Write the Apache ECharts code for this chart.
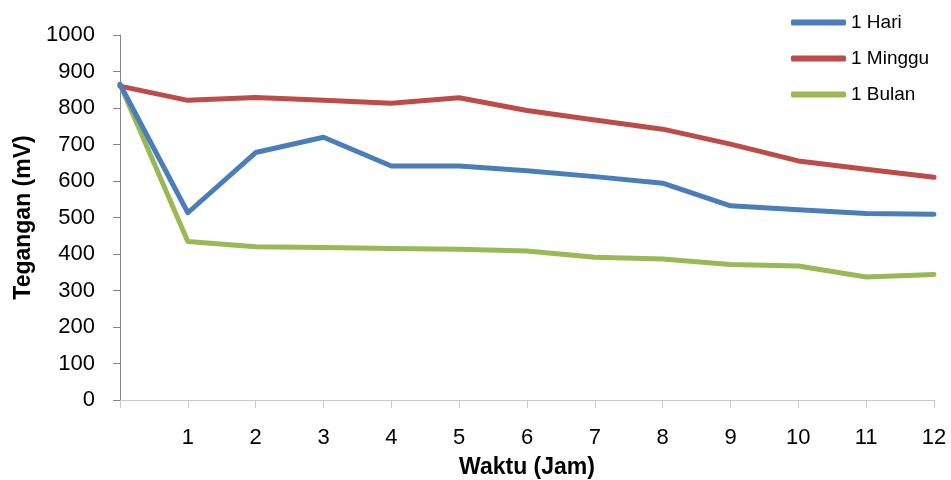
<!DOCTYPE html>
<html>
<head>
<meta charset="utf-8">
<script src="https://cdn.jsdelivr.net/npm/echarts@6/dist/echarts.min.js"></script>
<style>
  html, body { margin: 0; padding: 0; background: #fff; }
  #chart { width: 951px; height: 480px; }
</style>
</head>
<body>
<div id="chart"></div>
<script>
// Time in hours (x) and measured voltage in mV for each storage duration
const hours = [0, 1, 2, 3, 4, 5, 6, 7, 8, 9, 10, 11, 12];
const seriesNames = ['1 Hari', '1 Minggu', '1 Bulan'];
const hari   = [865, 513, 678, 720, 641, 641, 628, 612, 594, 532, 521, 511, 509];
const minggu = [860, 821, 829, 821, 813, 828, 793, 767, 742, 701, 655, 632, 610];
const bulan  = [865, 434, 420, 418, 415, 413, 408, 391, 386, 371, 367, 337, 344];
const colors = ['#4A7EBB', '#BE4B48', '#98B954'];

const fontFamily = '"Liberation Sans", Arial, sans-serif';
const yAxisGray = '#868686';
const xAxisGray = '#C8C8C8';

function pairs(values) {
  return hours.map((h, i) => [h, values[i]]);
}

const chart = echarts.init(document.getElementById('chart'), null, { renderer: 'canvas' });

chart.setOption({
  animation: false,
  backgroundColor: '#fff',
  color: colors,
  textStyle: { fontFamily: fontFamily, color: '#000' },
  grid: {
    left: 120, right: 17, top: 35, bottom: 80,
    containLabel: false,
    outerBoundsMode: 'none'
  },
  legend: {
    orient: 'vertical',
    left: 786,
    top: 8,
    itemWidth: 55,
    itemHeight: 6,
    itemGap: 17,
    icon: 'roundRect',
    textStyle: { fontSize: 19, color: '#000', fontFamily: fontFamily },
    data: seriesNames
  },
  xAxis: {
    type: 'value',
    min: 0,
    max: 12,
    interval: 1,
    name: 'Waktu (Jam)',
    nameLocation: 'middle',
    nameGap: 56,
    nameTextStyle: { fontSize: 23, fontWeight: 'bold', color: '#000', fontFamily: fontFamily },
    axisLine: { show: true, lineStyle: { color: xAxisGray, width: 1 } },
    axisTick: { show: true, length: 8, lineStyle: { color: xAxisGray } },
    axisLabel: {
      fontSize: 22,
      color: '#000',
      margin: 27,
      formatter: v => (v === 0 ? '' : String(v))
    },
    splitLine: { show: false }
  },
  yAxis: {
    type: 'value',
    min: 0,
    max: 1000,
    interval: 100,
    name: 'Tegangan (mV)',
    nameLocation: 'middle',
    nameGap: 83,
    nameRotate: 90,
    nameTextStyle: { fontSize: 23, fontWeight: 'bold', color: '#000', fontFamily: fontFamily },
    axisLine: { show: true, lineStyle: { color: yAxisGray, width: 1 } },
    axisTick: { show: true, length: 7, lineStyle: { color: yAxisGray } },
    axisLabel: { fontSize: 22, color: '#000', margin: 25, formatter: v => String(v) },
    splitLine: { show: false }
  },
  series: [
    { name: seriesNames[0], data: pairs(hari) },
    { name: seriesNames[1], data: pairs(minggu) },
    { name: seriesNames[2], data: pairs(bulan) }
  ].map((s, i) => ({
    name: s.name,
    type: 'line',
    data: s.data,
    symbol: 'none',
    showSymbol: false,
    lineStyle: { width: 5, color: colors[i], cap: 'round', join: 'round' },
    itemStyle: { color: colors[i] },
    z: 3 - i
  }))
});
</script>
</body>
</html>
